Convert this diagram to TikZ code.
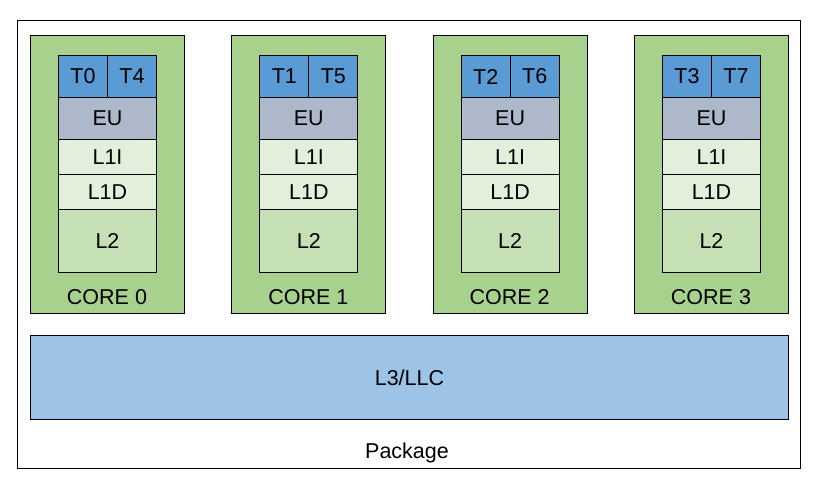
\documentclass[tikz,border=0pt]{standalone}
\usepackage{fontspec}
\setmainfont{Liberation Sans}
\definecolor{coregreen}{HTML}{A9D18E}
\definecolor{threadblue}{HTML}{5B9BD5}
\definecolor{eugray}{HTML}{ADB9CA}
\definecolor{lonegreen}{HTML}{E2EFDA}
\definecolor{ltwogreen}{HTML}{C5E0B4}
\definecolor{llcblue}{HTML}{9DC3E6}

\begin{document}
\begin{tikzpicture}[x=1pt, y=-1pt,
    cell/.style={draw, line width=1pt, inner sep=0pt, anchor=north west,
        font=\fontsize{21.5}{25}\selectfont},
    caption/.style={inner sep=0pt, text depth=0pt, font=\fontsize{21.5}{25}\selectfont}]
    \useasboundingbox (0,0) rectangle (820,488);

    % package and shared cache
    \node[cell, minimum width=783pt, minimum height=448pt] (pkg) at (17,20) {};
    \node[caption] (pkglabel) at (407,451) {Package};
    \node[cell, fill=llcblue, minimum width=758pt, minimum height=84pt] (llc) at (30,335) {L3/LLC};

    % four cores
    \foreach \i in {0,...,3} {
        \pgfmathsetmacro{\cx}{30+201.33*\i}
        \pgfmathtruncatemacro{\tb}{\i+4}
        \node[cell, fill=coregreen, minimum width=154pt, minimum height=278pt] (core\i) at (\cx,35) {};
        \node[caption] (corelabel\i) at (\cx+77,297) {CORE \i};
        \node[cell, fill=threadblue, minimum width=49pt, minimum height=42pt] (ta\i) at (\cx+28,55) {T\i};
        \node[cell, fill=threadblue, minimum width=49pt, minimum height=42pt] (tb\i) at (\cx+77,55) {T\tb};
        \node[cell, fill=eugray, minimum width=98pt, minimum height=42pt] (eu\i) at (\cx+28,97) {EU};
        \node[cell, fill=lonegreen, minimum width=98pt, minimum height=35pt] (lonei\i) at (\cx+28,139) {L1I};
        \node[cell, fill=lonegreen, minimum width=98pt, minimum height=35pt] (loned\i) at (\cx+28,174) {L1D};
        \node[cell, fill=ltwogreen, minimum width=98pt, minimum height=63pt] (ltwo\i) at (\cx+28,209) {L2};
    }
\end{tikzpicture}
\end{document}
